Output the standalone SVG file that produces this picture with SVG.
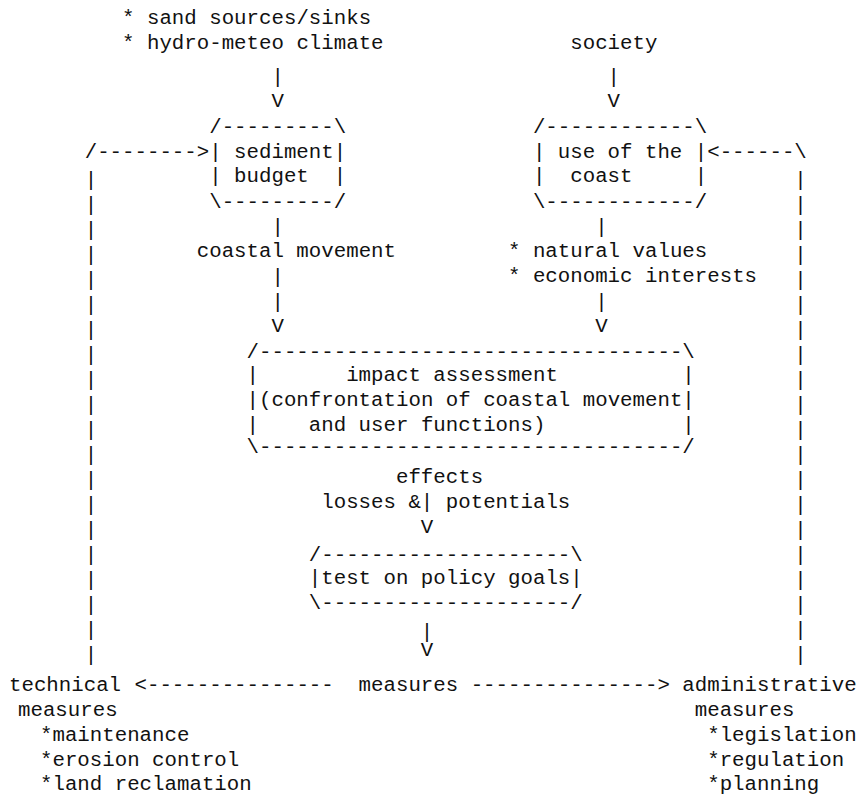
<svg xmlns="http://www.w3.org/2000/svg" xmlns:xlink="http://www.w3.org/1999/xlink" width="859" height="797" viewBox="0 0 859 797">
<style>
.t{font-family:"Liberation Mono","Courier New",monospace;font-size:20.75px;fill:#111;white-space:pre;}
</style>
<defs>
<text id="bar" class="t">|</text>
<text id="vee" class="t">V</text>
</defs>
<rect width="859" height="797" fill="#fff"/>

<g id="inputs-sediment">
<text class="t" x="122.05" y="24">* sand sources/sinks</text>
<text class="t" x="122.05" y="49">* hydro-meteo climate</text>
</g>
<g id="society">
<text class="t" x="570.25" y="49">society</text>
</g>

<g id="sediment-budget">
<text class="t" x="209.2" y="133" xml:space="preserve">/---------\</text>
<text class="t" x="209.2" y="158" xml:space="preserve">| sediment|</text>
<text class="t" x="209.2" y="182" xml:space="preserve">| budget  |</text>
<text class="t" x="209.2" y="208" xml:space="preserve">\---------/</text>
</g>

<g id="use-of-the-coast">
<text class="t" x="532.9" y="133" xml:space="preserve">/------------\</text>
<text class="t" x="532.9" y="158" xml:space="preserve">| use of the |</text>
<text class="t" x="532.9" y="182" xml:space="preserve">|  coast     |</text>
<text class="t" x="532.9" y="208" xml:space="preserve">\------------/</text>
</g>

<g id="values">
<text class="t" x="508" y="257">* natural values</text>
<text class="t" x="508" y="282">* economic interests</text>
</g>

<g id="impact-assessment">
<text class="t" x="246.55" y="358" xml:space="preserve">/----------------------------------\</text>
<text class="t" x="246.55" y="381" xml:space="preserve">|       impact assessment          |</text>
<text class="t" x="246.55" y="406" xml:space="preserve">|(confrontation of coastal movement|</text>
<text class="t" x="246.55" y="431" xml:space="preserve">|    and user functions)           |</text>
<text class="t" x="246.55" y="453" xml:space="preserve">\----------------------------------/</text>
</g>

<g id="effects">
<text class="t" x="395.95" y="483">effects</text>
<text class="t" x="321.25" y="508">losses &amp;| potentials</text>
</g>

<g id="test-on-policy-goals">
<text class="t" x="308.8" y="561">/--------------------\</text>
<text class="t" x="308.8" y="584">|test on policy goals|</text>
<text class="t" x="308.8" y="609">\--------------------/</text>
</g>

<g id="measures">
<text class="t" x="358.6" y="691">measures</text>
</g>

<g id="technical-measures">
<text class="t" x="9" y="691">technical</text>
<text class="t" x="18" y="716">measures</text>
<text class="t" x="40" y="741">*maintenance</text>
<text class="t" x="40" y="766">*erosion control</text>
<text class="t" x="40" y="790">*land reclamation</text>
</g>

<g id="administrative-measures">
<text class="t" x="682.3" y="691">administrative</text>
<text class="t" x="694.75" y="716">measures</text>
<text class="t" x="707.2" y="741">*legislation</text>
<text class="t" x="707.2" y="766">*regulation</text>
<text class="t" x="707.2" y="790">*planning</text>
</g>

<g id="connectors">
<use xlink:href="#bar" x="271.45" y="83"/>
<use xlink:href="#vee" x="271.45" y="107"/>
<use xlink:href="#bar" x="607.6" y="83"/>
<use xlink:href="#vee" x="607.6" y="107"/>
<use xlink:href="#bar" x="271.45" y="233"/>
<text class="t" x="196.75" y="257">coastal movement</text>
<use xlink:href="#bar" x="271.45" y="283"/>
<use xlink:href="#bar" x="271.45" y="308"/>
<use xlink:href="#vee" x="271.45" y="332"/>
<use xlink:href="#bar" x="595.15" y="233"/>
<use xlink:href="#bar" x="595.15" y="308"/>
<use xlink:href="#vee" x="595.15" y="332"/>
<use xlink:href="#vee" x="420.85" y="533"/>
<use xlink:href="#bar" x="420.85" y="638"/>
<use xlink:href="#vee" x="420.85" y="656"/>
<text class="t" x="134.5" y="691">&lt;---------------</text>
<text class="t" x="470.65" y="691">---------------&gt;</text>
<text class="t" x="84.7" y="158">/--------&gt;</text>
<use xlink:href="#bar" x="84.7" y="186"/>
<use xlink:href="#bar" x="84.7" y="211"/>
<use xlink:href="#bar" x="84.7" y="236"/>
<use xlink:href="#bar" x="84.7" y="261"/>
<use xlink:href="#bar" x="84.7" y="286"/>
<use xlink:href="#bar" x="84.7" y="311"/>
<use xlink:href="#bar" x="84.7" y="336"/>
<use xlink:href="#bar" x="84.7" y="361"/>
<use xlink:href="#bar" x="84.7" y="386"/>
<use xlink:href="#bar" x="84.7" y="411"/>
<use xlink:href="#bar" x="84.7" y="436"/>
<use xlink:href="#bar" x="84.7" y="461"/>
<use xlink:href="#bar" x="84.7" y="486"/>
<use xlink:href="#bar" x="84.7" y="511"/>
<use xlink:href="#bar" x="84.7" y="536"/>
<use xlink:href="#bar" x="84.7" y="561"/>
<use xlink:href="#bar" x="84.7" y="586"/>
<use xlink:href="#bar" x="84.7" y="611"/>
<use xlink:href="#bar" x="84.7" y="636"/>
<use xlink:href="#bar" x="84.7" y="661"/>
<text class="t" x="707.2" y="158">&lt;------\</text>
<use xlink:href="#bar" x="794.35" y="186"/>
<use xlink:href="#bar" x="794.35" y="211"/>
<use xlink:href="#bar" x="794.35" y="236"/>
<use xlink:href="#bar" x="794.35" y="261"/>
<use xlink:href="#bar" x="794.35" y="286"/>
<use xlink:href="#bar" x="794.35" y="311"/>
<use xlink:href="#bar" x="794.35" y="336"/>
<use xlink:href="#bar" x="794.35" y="361"/>
<use xlink:href="#bar" x="794.35" y="386"/>
<use xlink:href="#bar" x="794.35" y="411"/>
<use xlink:href="#bar" x="794.35" y="436"/>
<use xlink:href="#bar" x="794.35" y="461"/>
<use xlink:href="#bar" x="794.35" y="486"/>
<use xlink:href="#bar" x="794.35" y="511"/>
<use xlink:href="#bar" x="794.35" y="536"/>
<use xlink:href="#bar" x="794.35" y="561"/>
<use xlink:href="#bar" x="794.35" y="586"/>
<use xlink:href="#bar" x="794.35" y="611"/>
<use xlink:href="#bar" x="794.35" y="636"/>
<use xlink:href="#bar" x="794.35" y="661"/>
</g>
</svg>
